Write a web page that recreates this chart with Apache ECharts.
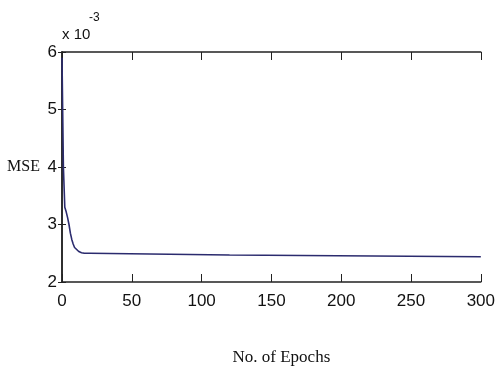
<!DOCTYPE html>
<html>
<head>
<meta charset="utf-8">
<script src="https://cdn.jsdelivr.net/npm/echarts@6/dist/echarts.min.js"></script>
<style>
  html, body { margin: 0; padding: 0; background: #fff; }
  #chart { width: 498px; height: 374px; }
</style>
</head>
<body>
<div id="chart"></div>
<script>
// training curve, MSE in units of 1e-3
const epochs = [0, 1, 2, 3, 4, 5, 6, 7, 8, 9, 10, 12, 14, 16, 20, 21, 120, 121, 300]
const mse = [5.9, 4.0, 3.3, 3.22, 3.12, 3.0, 2.85, 2.74, 2.66, 2.6, 2.57, 2.53, 2.51, 2.5, 2.5, 2.47, 2.47, 2.44, 2.44]
const xTicks = { min: 0, max: 300, step: 50 }
const yTicks = { min: 2, max: 6, step: 1 }

const sans = "'Liberation Sans', Arial, sans-serif"
const serif = "'Liberation Serif', 'DejaVu Serif', serif"
const axisColor = '#222'

const chart = echarts.init(document.getElementById('chart'), null, { renderer: 'canvas' })

const xBase = {
    type: 'value',
    min: xTicks.min,
    max: xTicks.max,
    interval: xTicks.step,
    axisLine: { show: true, lineStyle: { color: axisColor, width: 1.5 } },
    axisTick: { show: true, inside: true, length: 8, lineStyle: { color: axisColor, width: 1 } },
    splitLine: { show: false },
}
const yBase = {
    type: 'value',
    min: yTicks.min,
    max: yTicks.max,
    interval: yTicks.step,
    axisLine: { show: true, lineStyle: { color: axisColor, width: 1.5 } },
    axisTick: { show: true, inside: true, length: 4, lineStyle: { color: axisColor, width: 1 } },
    splitLine: { show: false },
}

chart.setOption({
    animation: false,
    backgroundColor: '#fff',
    grid: { left: 62, right: 9, top: 52, bottom: 92 },
    xAxis: [
        {
            ...xBase,
            position: 'bottom',
            axisLabel: { color: '#111', fontFamily: sans, fontSize: 17, margin: 11 },
            name: 'No. of Epochs',
            nameLocation: 'middle',
            nameGap: 67,
            nameTextStyle: { color: '#111', fontFamily: serif, fontSize: 17, padding: [0, 0, 0, 20] },
        },
        { ...xBase, position: 'top', axisLabel: { show: false } },
    ],
    yAxis: [
        {
            ...yBase,
            position: 'left',
            axisLabel: { color: '#111', fontFamily: sans, fontSize: 17, margin: 5 },
            name: 'MSE',
            nameLocation: 'middle',
            nameGap: 22,
            nameRotate: 0,
            nameTextStyle: { color: '#111', fontFamily: serif, fontSize: 16, align: 'right', padding: [8, 0, 0, 0] },
        },
        { ...yBase, position: 'right', axisLabel: { show: false } },
    ],
    graphic: [
        {
            type: 'text',
            left: 62,
            top: 27,
            style: { text: 'x 10', fill: '#111', font: `15px ${sans}` },
        },
        {
            type: 'text',
            left: 89,
            top: 12,
            style: { text: '-3', fill: '#111', font: `12px ${sans}` },
        },
    ],
    series: [
        {
            type: 'line',
            data: epochs.map((e, i) => [e, mse[i]]),
            showSymbol: false,
            lineStyle: { color: '#2b2b6e', width: 1.6 },
            xAxisIndex: 0,
            yAxisIndex: 0,
        },
    ],
})
</script>
</body>
</html>
